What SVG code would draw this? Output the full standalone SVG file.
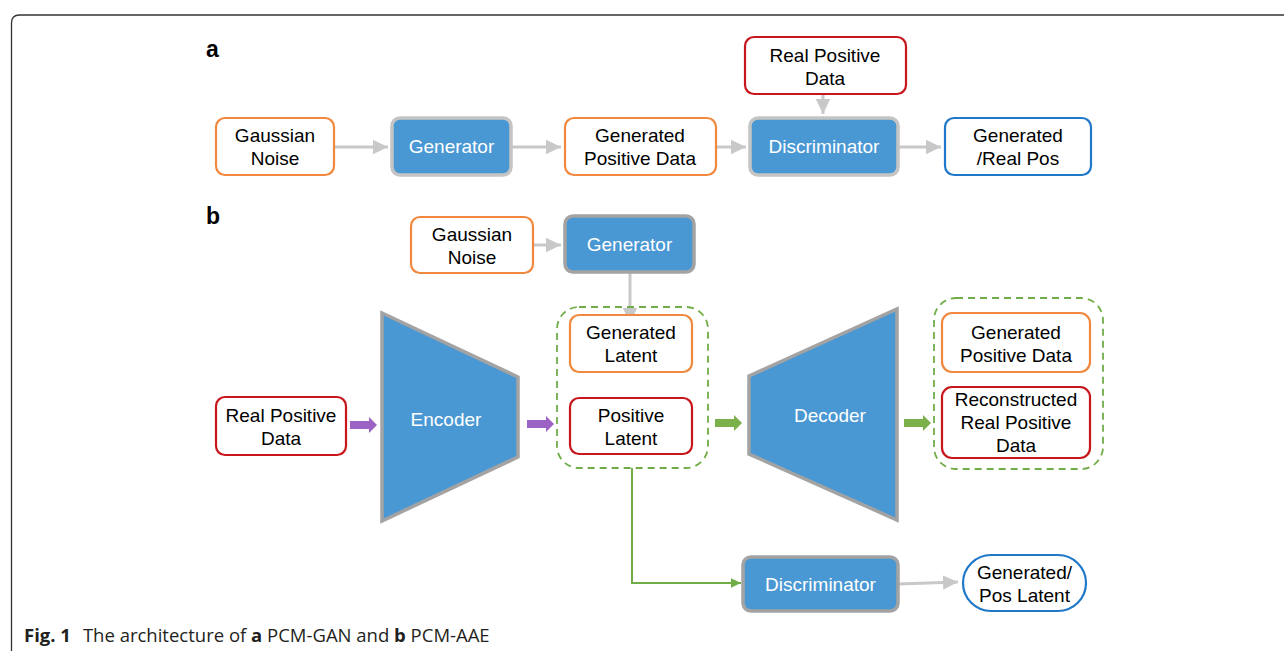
<svg xmlns="http://www.w3.org/2000/svg" width="1284" height="651" viewBox="0 0 1284 651">
<defs>
<style>
.t{font-family:"Liberation Sans",Arial,sans-serif;font-size:19px;fill:#000;text-anchor:middle}
.tw{font-family:"Liberation Sans",Arial,sans-serif;font-size:19px;fill:#fff;text-anchor:middle}
.lab{font-family:"Liberation Sans",Arial,sans-serif;font-size:23px;font-weight:bold;fill:#000}
.or{fill:#fff;stroke:#F0883E;stroke-width:2.2}
.rd{fill:#fff;stroke:#C8161D;stroke-width:2.2}
.bl{fill:#fff;stroke:#1F78C8;stroke-width:2.2}
.bx{fill:#4A98D3;stroke:#C4C4C4;stroke-width:3.5}
.bxd{fill:#4A98D3;stroke:#A3A3A3;stroke-width:3.5}
.dash{fill:none;stroke:#70AD47;stroke-width:1.8;stroke-dasharray:7 5}
.ga{fill:none;stroke:#C8C8C8;stroke-width:3;marker-end:url(#ah)}
.cap{font-family:"Open Sans","Liberation Sans",sans-serif;font-size:18.5px;fill:#231F20}
</style>
<marker id="ah" markerWidth="6" markerHeight="6" refX="5" refY="3" orient="auto" markerUnits="strokeWidth">
<path d="M0,0.6 L5,3 L0,5.4 Z" fill="#C8C8C8"/>
</marker>
<marker id="gh" markerWidth="6" markerHeight="6" refX="5" refY="3" orient="auto" markerUnits="strokeWidth">
<path d="M0,0.6 L5,3 L0,5.4 Z" fill="#70AD47"/>
</marker>
</defs>
<rect width="1284" height="651" fill="#fff"/>
<path d="M11.5,651 L11.5,23 Q11.5,15 19.5,15 L1284,15" fill="none" stroke="#333" stroke-width="1.3"/>
<text class="lab" x="206" y="57">a</text>
<text class="lab" x="206" y="224">b</text>

<g id="connectors">
<path class="ga" d="M334,147 L388,147"/>
<path class="ga" d="M511,147 L561,147"/>
<path class="ga" d="M716,147 L746,147"/>
<path class="ga" d="M823,94 L823,114"/>
<path class="ga" d="M898,147 L941,147"/>
<path class="ga" d="M533,245 L561,245"/>
<path class="ga" d="M630,272 L630,323"/>
<path class="ga" d="M898,584 L958,582"/>
<path d="M632,468 L632,583 L741,583" fill="none" stroke="#70AD47" stroke-width="2" marker-end="url(#gh)"/>
<path d="M350,421 L369,421 L369,417 L377,425 L369,433 L369,429 L350,429 Z" fill="#9A63C4"/>
<path d="M527,420 L546,420 L546,416 L554,424 L546,432 L546,428 L527,428 Z" fill="#9A63C4"/>
<path d="M715,419 L734,419 L734,415 L742,423 L734,431 L734,427 L715,427 Z" fill="#7CB04B"/>
<path d="M904,419 L923,419 L923,415 L931,423 L923,431 L923,427 L904,427 Z" fill="#7CB04B"/>
</g>

<g id="a-gaussian-noise"><rect class="or" x="216" y="118" width="118" height="57" rx="9"/><text class="t" x="275" y="142">Gaussian</text><text class="t" x="275" y="165">Noise</text></g>
<g id="a-generator"><rect class="bx" x="392" y="118" width="119" height="57" rx="8"/><text class="tw" x="451.5" y="153">Generator</text></g>
<g id="a-generated-positive-data"><rect class="or" x="565" y="118" width="151" height="57" rx="9"/><text class="t" x="640" y="142">Generated</text><text class="t" x="640" y="165">Positive Data</text></g>
<g id="a-real-positive-data"><rect class="rd" x="745" y="37" width="161" height="57" rx="9"/><text class="t" x="825" y="62">Real Positive</text><text class="t" x="825" y="85">Data</text></g>
<g id="a-discriminator"><rect class="bx" x="750" y="118" width="148" height="57" rx="8"/><text class="tw" x="824" y="153">Discriminator</text></g>
<g id="a-generated-real-pos"><rect class="bl" x="945" y="118" width="146" height="57" rx="9"/><text class="t" x="1018" y="142">Generated</text><text class="t" x="1018" y="165">/Real Pos</text></g>

<g id="b-gaussian-noise"><rect class="or" x="411" y="217" width="122" height="56" rx="9"/><text class="t" x="472" y="241">Gaussian</text><text class="t" x="472" y="264">Noise</text></g>
<g id="b-generator"><rect class="bxd" x="565" y="216" width="129" height="56" rx="8"/><text class="tw" x="629.5" y="251">Generator</text></g>
<g id="b-latent-group"><rect class="dash" x="557" y="307" width="151" height="161" rx="22"/></g>
<g id="b-generated-latent"><rect class="or" x="570" y="315" width="122" height="57" rx="9"/><text class="t" x="631" y="339">Generated</text><text class="t" x="631" y="362">Latent</text></g>
<g id="b-positive-latent"><rect class="rd" x="570" y="398" width="122" height="56" rx="9"/><text class="t" x="631" y="422">Positive</text><text class="t" x="631" y="445">Latent</text></g>
<g id="b-real-positive-data"><rect class="rd" x="216" y="397" width="130" height="58" rx="9"/><text class="t" x="281" y="422">Real Positive</text><text class="t" x="281" y="445">Data</text></g>
<g id="b-encoder"><path class="bxd" d="M382,313 L518,377 L518,457 L382,521 Z"/><text class="tw" x="446" y="426">Encoder</text></g>
<g id="b-decoder"><path class="bxd" d="M749,376 L897,309 L897,520 L749,454 Z"/><text class="tw" x="830" y="422">Decoder</text></g>
<g id="b-output-group"><rect class="dash" x="934" y="298" width="169" height="171" rx="22"/></g>
<g id="b-generated-positive-data"><rect class="or" x="942" y="313" width="148" height="59" rx="10"/><text class="t" x="1016" y="339">Generated</text><text class="t" x="1016" y="362">Positive Data</text></g>
<g id="b-reconstructed"><rect class="rd" x="942" y="387" width="148" height="71" rx="10"/><text class="t" x="1016" y="406">Reconstructed</text><text class="t" x="1016" y="429">Real Positive</text><text class="t" x="1016" y="452">Data</text></g>
<g id="b-discriminator"><rect class="bxd" x="743" y="557" width="155" height="54" rx="8"/><text class="tw" x="820.5" y="591">Discriminator</text></g>
<g id="b-generated-pos-latent"><rect class="bl" x="963" y="555" width="123" height="56" rx="28"/><text class="t" x="1024.5" y="579">Generated/</text><text class="t" x="1024.5" y="602">Pos Latent</text></g>

<text class="cap" x="24" y="642"><tspan font-weight="bold">Fig. 1</tspan><tspan dx="12">The architecture of </tspan><tspan font-weight="bold">a</tspan> PCM-GAN and <tspan font-weight="bold">b</tspan> PCM-AAE</text>
</svg>
